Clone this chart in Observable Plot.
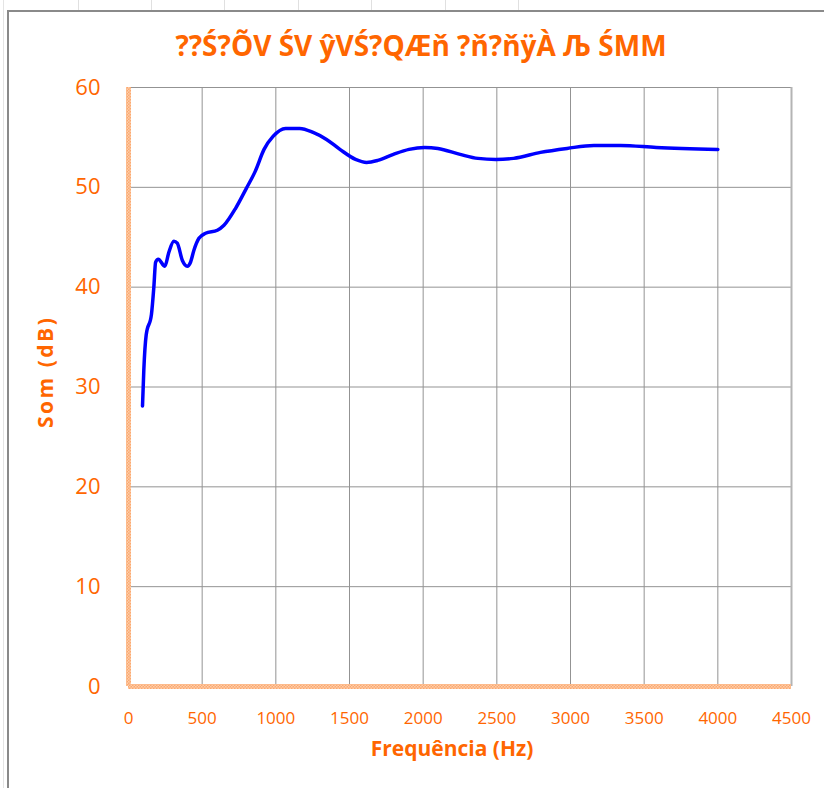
<!DOCTYPE html>
<html>
<head>
<meta charset="utf-8">
<script src="https://cdn.jsdelivr.net/npm/d3@7"></script>
<script src="https://cdn.jsdelivr.net/npm/@observablehq/plot@0.6"></script>
<style>
  html, body { margin: 0; padding: 0; background: #fff; }
  #wrap { position: relative; width: 824px; height: 788px; overflow: hidden; font-family: "Open Sans", sans-serif; }
  #frame { position: absolute; left: 7px; top: 10px; width: 900px; height: 900px;
           border-left: 2px solid #8a8a8a; border-top: 2px solid #8a8a8a; box-sizing: border-box; }
  #frame2 { position: absolute; left: 3px; top: 0px; width: 1px; height: 788px; background: #e4e4e4; }
  .cell { position: absolute; top: 0; width: 1px; height: 10px; background: #e0e0e0; }
  #title { position: absolute; left: 0; width: 842px; top: 25px; text-align: center;
           font-family: "Open Sans", sans-serif; font-weight: 700; font-size: 28px; color: #ff6600;
           line-height: 40px; z-index: 2; }
  #chart { position: absolute; left: 0; top: 0; }
</style>
</head>
<body>
<div id="wrap">
  <div id="frame2"></div>
  <div id="frame"></div>
  <div id="title"></div>
  <div id="chart"></div>
</div>
<script>
// ---- data ----
const titleText = "??Ś?ÕV ŚV ŷVŚ?QÆň ?ň?ňÿÀ Љ ŚMM";
const xLabel = "Frequência (Hz)";
const yLabel = "Som (dB)";
const xTicks = [0, 500, 1000, 1500, 2000, 2500, 3000, 3500, 4000, 4500];
const yTicks = [0, 10, 20, 30, 40, 50, 60];
const freq = [95, 104, 120, 156, 172, 184, 202, 247, 274, 308, 331, 365, 399, 421, 444, 478, 523, 603, 648, 727, 800, 860, 920, 981, 1066, 1162, 1253, 1344, 1435, 1541, 1616, 1692, 1798, 1904, 2009, 2100, 2251, 2372, 2493, 2614, 2796, 2977, 3159, 3340, 3582, 4000];
const som  = [28.1, 31.7, 35.2, 37.3, 40.0, 42.5, 42.8, 42.1, 43.5, 44.6, 44.4, 42.7, 42.1, 42.5, 43.7, 44.9, 45.4, 45.7, 46.2, 47.9, 49.9, 51.6, 53.8, 55.1, 55.9, 55.9, 55.5, 54.8, 53.8, 52.8, 52.5, 52.7, 53.3, 53.8, 54.0, 53.9, 53.3, 52.9, 52.8, 52.9, 53.5, 53.9, 54.2, 54.2, 54.0, 53.8];

// spreadsheet cell separators above the chart frame
[78, 151, 224, 298, 371, 445, 518].forEach(x => {
  const d = document.createElement("div"); d.className = "cell"; d.style.left = x + "px";
  document.getElementById("wrap").appendChild(d);
});

document.getElementById("title").textContent = titleText;

const data = freq.map((f, i) => ({f, s: som[i]}));
const orange = "#ff6600";

const chart = Plot.plot({
  width: 824,
  height: 788,
  marginLeft: 128,
  marginRight: 33,
  marginTop: 87,
  marginBottom: 102,
  style: { background: "transparent", fontFamily: "Open Sans, sans-serif" },
  x: { domain: [0, 4500] },
  y: { domain: [0, 60] },
  marks: [
    Plot.gridX(xTicks.filter(d => d > 0), { stroke: "#939393", strokeOpacity: 1, strokeWidth: 1 }),
    Plot.gridY(yTicks.filter(d => d > 0), { stroke: "#939393", strokeOpacity: 1, strokeWidth: 1 }),
    Plot.ruleX([4500], { stroke: "#b4b4b4", strokeWidth: 2 }),
    Plot.ruleX([0], { stroke: "url(#hatch)", strokeWidth: 5 }),
    Plot.ruleY([0], { stroke: "url(#hatch)", strokeWidth: 5 }),
    Plot.axisX(xTicks, { tickSize: 0, tickPadding: 25, fontSize: 17, fill: orange, label: null, tickFormat: d => String(d) }),
    Plot.axisY(yTicks, { tickSize: 0, tickPadding: 28, fontSize: 22, fill: orange, label: null, tickFormat: d => String(d) }),
    Plot.line(data, { x: "f", y: "s", stroke: "#0000ff", strokeWidth: 3.5, curve: "monotone-x" }),
    Plot.text([xLabel], { frameAnchor: "bottom", dx: -8, dy: 69, fill: orange, fontSize: 21, fontWeight: 700 }),
    Plot.text([yLabel], { frameAnchor: "left", dx: -82, dy: 41, rotate: -90, fill: orange, fontSize: 21, fontWeight: 700 })
  ]
});

const svg = d3.select(chart);
svg.insert("defs", ":first-child").html(
  '<pattern id="hatch" patternUnits="userSpaceOnUse" width="3" height="3">' +
  '<rect width="3" height="3" fill="#fee0c8"/>' +
  '<rect width="1.5" height="1.5" fill="#fb9550"/>' +
  '<rect x="1.5" y="1.5" width="1.5" height="1.5" fill="#fb9550"/>' +
  '</pattern>'
);
svg.selectAll("text").filter(function() { return this.textContent === yLabel; }).style("letter-spacing", "2.5px");

document.getElementById("chart").appendChild(chart);
</script>
</body>
</html>
